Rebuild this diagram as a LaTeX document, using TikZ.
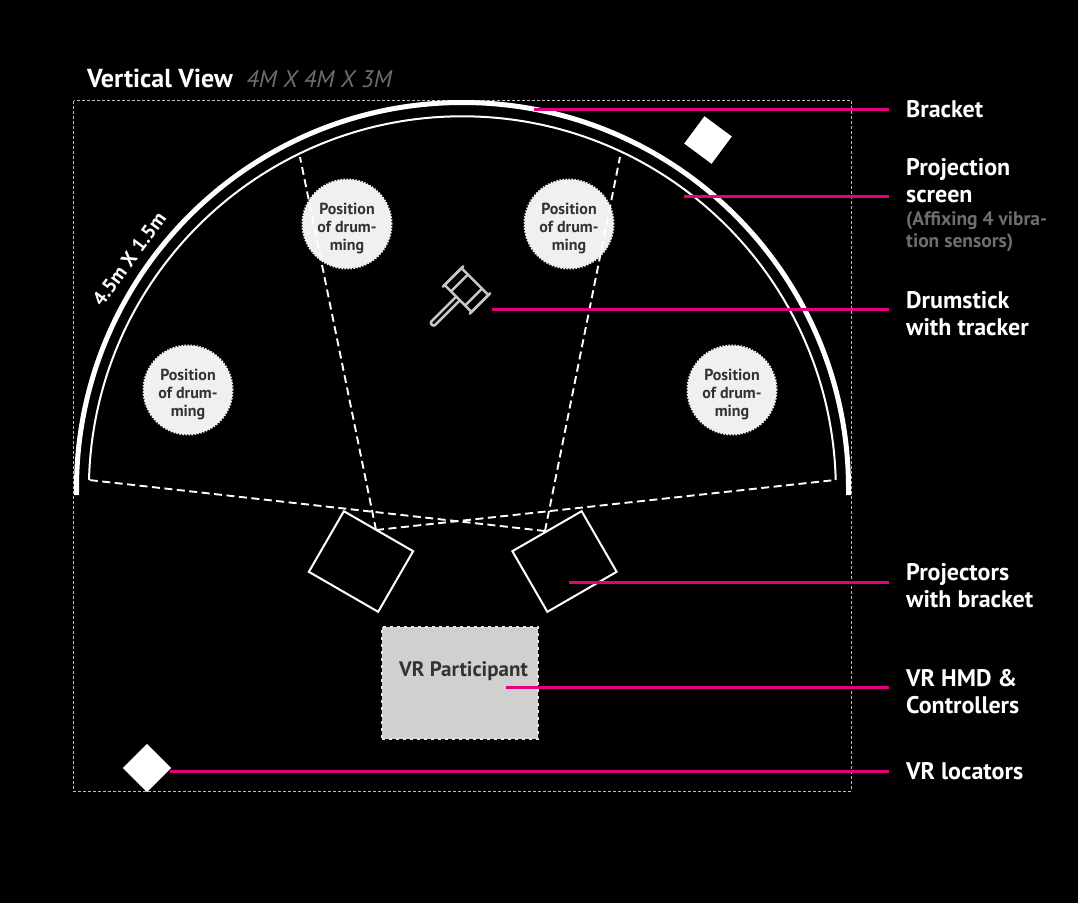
\documentclass[tikz,border=0pt]{standalone}
\usepackage{fontspec}
\setmainfont{PT Sans}
\usetikzlibrary{positioning, calc}
\definecolor{myPink}{RGB}{230,0,126}
\definecolor{myGrey}{RGB}{110,110,110}
\definecolor{myDisc}{RGB}{239,240,239}
\definecolor{myBox}{RGB}{208,208,208}
\definecolor{myInk}{RGB}{51,51,51}
\tikzset{
	leader/.style={myPink, line width=3pt, shorten >=17pt},
	beam/.style={white, line width=1.9pt, dash pattern=on 8pt off 4.5pt},
	projector/.style={draw=white, line width=2pt, minimum width=80pt, minimum height=70pt, inner sep=0pt},
	locator/.style={fill=white, inner sep=0pt, minimum size=34pt},
	drumspot/.style={circle, fill=myDisc, draw=myDisc, line width=2pt, dash pattern=on 1.5pt off 1.5pt, minimum size=89pt, inner sep=0pt, align=center, text=myInk, font=\fontsize{16}{18}\selectfont\bfseries},
	sidelabel/.style={anchor=north west, inner sep=0pt, align=left, white, font=\fontsize{24}{27}\selectfont\bfseries},
	sidenote/.style={anchor=north west, inner sep=0pt, align=left, myGrey, font=\fontsize{19.5}{22}\selectfont\bfseries}
}
\begin{document}
\begin{tikzpicture}[x=1pt, y=-1pt]
	\fill[black] (0,0) rectangle (1078,903);
	\useasboundingbox (0,0) rectangle (1078,903);
	% Room outline
	\draw[white!75!black, line width=0.9pt, dash pattern=on 3pt off 2pt] (73.5,100.5) rectangle (851,791);
	\node[anchor=base west, inner sep=0pt, white, font=\fontsize{26}{28}\selectfont\bfseries] (viewTitle) at (87,87) {Vertical View};
	\node[right=13pt of viewTitle.base east, anchor=base west, inner sep=0pt, myGrey, font=\fontsize{24}{28}\selectfont\itshape] (viewSize) {4M X 4M X 3M};
	\node[rotate=54, inner sep=0pt, white, font=\fontsize{20}{24}\selectfont\bfseries] (screenSize) at (129,259) {4.5m X 1.5m};
	% Bracket and screen
	\draw[white, line width=5pt] (76.5,495) -- (76.5,488.5) arc[start angle=180, end angle=0, radius=386pt] -- (848.5,495);
	\draw[white, line width=2pt] (89,480) arc[start angle=178.5, end angle=1.5, radius=373.5pt];
	% Drumming spots
	\foreach \name/\px/\py in {spotA/347/224, spotB/569/224, spotC/188/390, spotD/732/390}
		\node[drumspot] (\name) at (\px,\py) {\rule{0pt}{20pt}Position\\of drum-\\ming};
	% Projection beams
	\coordinate (beamL) at (376,530);
	\coordinate (beamR) at (545,531);
	\coordinate (screenA) at (89,480);
	\coordinate (screenB) at (300,157);
	\coordinate (screenC) at (620,157);
	\coordinate (screenD) at (835,480);
	\draw[beam] (beamL) -- (screenB);
	\draw[beam] (beamL) -- (screenD);
	\draw[beam] (beamR) -- (screenC);
	\draw[beam] (beamR) -- (screenA);
	% Projectors
	\node[projector, rotate=-30] (projL) at (361,561.5) {};
	\node[projector, rotate=30] (projR) at (564.5,561.5) {};
	% Participant
	\node[fill=myBox, draw=white!90!black, line width=1.5pt, dash pattern=on 3pt off 4pt, minimum width=156pt, minimum height=112pt, inner sep=0pt] (participant) at (460,683) {};
	\node[inner sep=0pt, text=myInk, font=\fontsize{21}{24}\selectfont\bfseries] (participantText) at (463.5,671) {VR Participant};
	% Locators
	\node[locator, rotate=-36.5] (locatorA) at (708,140) {};
	\node[locator, rotate=45] (locatorB) at (147,768) {};
	% Drumstick
	\begin{scope}[shift={(466.5,290)}, rotate=-45, white!78!black, line width=2.5pt, line cap=round]
		\draw (-19,-12) rectangle (19,12);
		\draw (-19,-14.5) -- (-19,14.5);
		\draw (19,-14.5) -- (19,14.5);
		\draw (-10,-12) -- (-10,12);
		\draw (10,-12) -- (10,12);
		\draw[rounded corners=2pt] (-2.5,12) -- (-2.5,49) -- (2.5,49) -- (2.5,12);
	\end{scope}
	% Labels
	\node[sidelabel] (lblBracket) at (906,100) {Bracket};
	\node[sidelabel] (lblScreen) at (906,158) {Projection\\screen};
	\node[sidenote] (lblSensors) at (906,211) {(Affixing 4 vibra-\\tion sensors)};
	\node[sidelabel] (lblDrumstick) at (906,291) {Drumstick\\with tracker};
	\node[sidelabel] (lblProjectors) at (906,563) {Projectors\\with bracket};
	\node[sidelabel] (lblHmd) at (906,669) {VR HMD \&\\Controllers};
	\node[sidelabel] (lblLocators) at (906,762) {VR locators};
	% Leader lines
	\coordinate (bracketEnd) at (534,109);
	\coordinate (screenEnd) at (684,196);
	\coordinate (drumstickEnd) at (492,309);
	\coordinate (projEnd) at (569,582);
	\coordinate (hmdEnd) at (506,687);
	\coordinate (locatorEnd) at (170,771);
	\draw[leader] (bracketEnd) -- (bracketEnd -| lblBracket.west);
	\draw[leader] (screenEnd) -- (screenEnd -| lblScreen.west);
	\draw[leader] (drumstickEnd) -- (drumstickEnd -| lblDrumstick.west);
	\draw[leader] (projEnd) -- (projEnd -| lblProjectors.west);
	\draw[leader] (hmdEnd) -- (hmdEnd -| lblHmd.west);
	\draw[leader] (locatorEnd) -- (locatorEnd -| lblLocators.west);
\end{tikzpicture}
\end{document}
